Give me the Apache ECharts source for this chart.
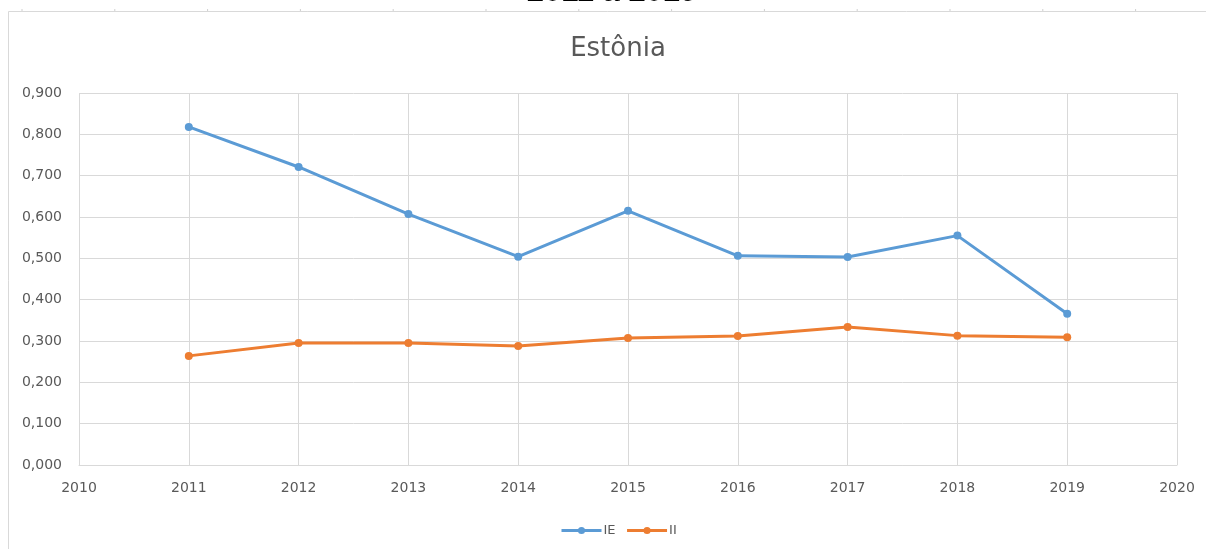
<!DOCTYPE html>
<html>
<head>
<meta charset="utf-8">
<script src="https://cdn.jsdelivr.net/npm/echarts@6/dist/echarts.min.js"></script>
<style>html,body{margin:0;padding:0;background:#fff;}#c{width:1206px;height:549px;}</style>
</head>
<body>
<div id="c"></div>
<script>
var years = [2011, 2012, 2013, 2014, 2015, 2016, 2017, 2018, 2019];
var ieValues = [0.818, 0.721, 0.607, 0.504, 0.615, 0.506, 0.503, 0.555, 0.366];
var iiValues = [0.264, 0.295, 0.295, 0.288, 0.307, 0.312, 0.334, 0.313, 0.309];
var xTicks = [2010, 2020, 1];
var yTicks = [0, 0.9, 0.1];

var font = '"DejaVu Sans", "Open Sans", sans-serif';
function pairs(vals) { return years.map(function (y, i) { return [y, vals[i]]; }); }

var rulerTicks = [];
for (var i = 0; i < 14; i++) {
  var x = 22 + i * 92.8;
  rulerTicks.push({ type: 'line', shape: { x1: x, y1: 9, x2: x, y2: 11 }, style: { stroke: '#cfcfcf', lineWidth: 1 }, silent: true });
}

var chart = echarts.init(document.getElementById('c'));
chart.setOption({
  animation: false,
  backgroundColor: '#ffffff',
  title: {
    text: 'Estônia', left: 613, textAlign: 'center', top: 31,
    textStyle: { fontFamily: font, fontSize: 26, fontWeight: 'normal', color: '#595959' }
  },
  graphic: [
    { type: 'line', shape: { x1: 8.5, y1: 11.5, x2: 1206, y2: 11.5 }, style: { stroke: '#d9d9d9', lineWidth: 1 }, silent: true },
    { type: 'line', shape: { x1: 8.5, y1: 11.5, x2: 8.5, y2: 549 }, style: { stroke: '#d9d9d9', lineWidth: 1 }, silent: true },
    { type: 'text', x: 612, y: 8, z: 100, style: { text: '2011 a 2019', font: 'bold 31px "Liberation Sans", Arial, sans-serif', fill: '#000', align: 'center', verticalAlign: 'bottom' }, silent: true }
  ].concat(rulerTicks),
  grid: { left: 79, right: 29, top: 93, bottom: 84, containLabel: false },
  legend: {
    left: 555, top: 519, itemWidth: 40, itemHeight: 9, itemGap: 10,
    lineStyle: { width: 3 },
    textStyle: { fontFamily: font, fontSize: 13, color: '#595959', padding: [0, 0, 0, -3] },
    data: ['IE', 'II']
  },
  xAxis: {
    type: 'value', min: xTicks[0], max: xTicks[1], interval: xTicks[2],
    axisLine: { show: true, lineStyle: { color: '#d9d9d9' } },
    axisTick: { show: false },
    splitLine: { show: true, lineStyle: { color: '#d9d9d9', width: 1 } },
    axisLabel: { margin: 16, fontFamily: font, fontSize: 14, color: '#595959', formatter: function (v) { return String(v); } }
  },
  yAxis: {
    type: 'value', min: yTicks[0], max: yTicks[1], interval: yTicks[2],
    axisLine: { show: false }, axisTick: { show: false },
    splitLine: { show: true, lineStyle: { color: '#d9d9d9', width: 1 } },
    axisLabel: { margin: 17, fontFamily: font, fontSize: 14, color: '#595959', formatter: function (v) { return v.toFixed(3).replace('.', ','); } }
  },
  series: [
    { name: 'IE', type: 'line', data: pairs(ieValues), symbol: 'circle', symbolSize: 8,
      lineStyle: { color: '#5b9bd5', width: 3 }, itemStyle: { color: '#5b9bd5' } },
    { name: 'II', type: 'line', data: pairs(iiValues), symbol: 'circle', symbolSize: 8,
      lineStyle: { color: '#ed7d31', width: 3 }, itemStyle: { color: '#ed7d31' } }
  ]
});
</script>
</body>
</html>
